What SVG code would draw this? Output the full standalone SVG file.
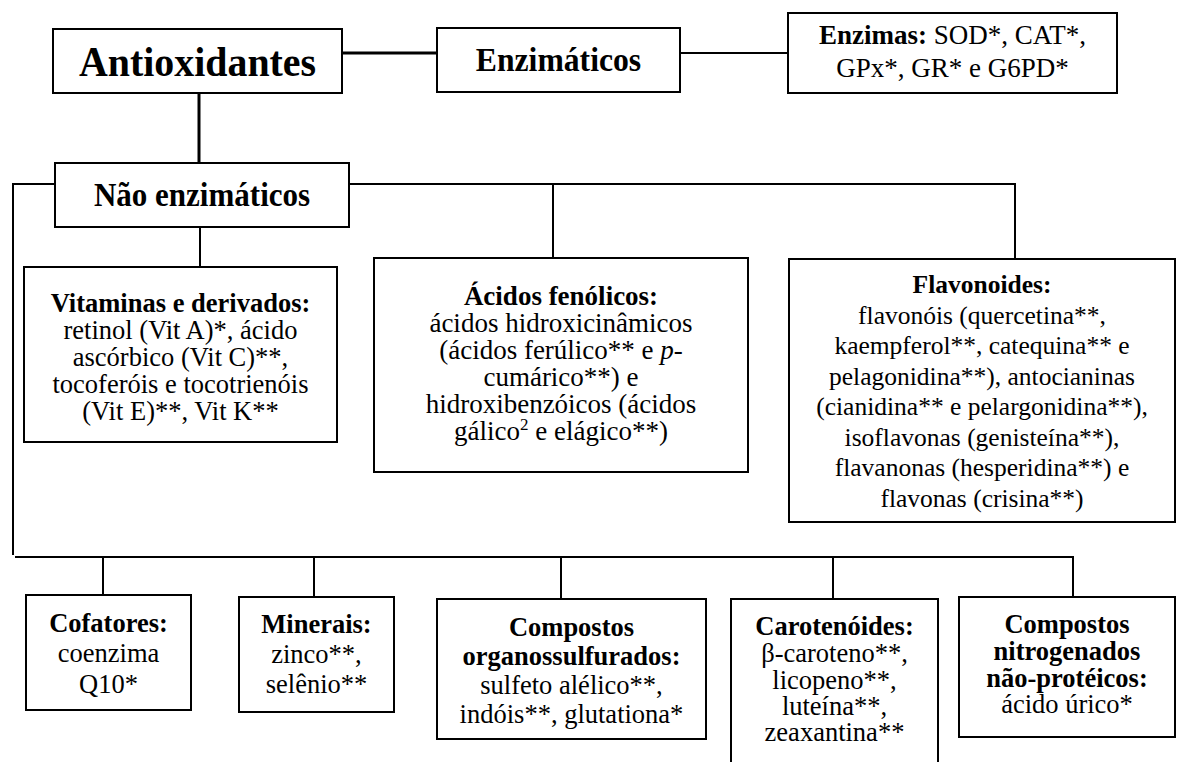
<svg xmlns="http://www.w3.org/2000/svg" width="1177" height="762" viewBox="0 0 1177 762">
<style>
.box{fill:#fff;stroke:#000;stroke-width:2}
.t{font-family:"Liberation Serif","Times New Roman",serif;font-size:26.5px;text-anchor:middle;fill:#000}
.b{font-weight:bold}
.i{font-style:italic}
.thick{stroke:#000;stroke-width:3;fill:none}
.thin{stroke:#000;stroke-width:2;fill:none}
</style>
<rect width="1177" height="762" fill="#fff"/>
<g id="connectors">
<line class="thick" x1="342" y1="53" x2="437" y2="53"/>
<line class="thin" x1="680" y1="53" x2="788" y2="53"/>
<line class="thick" x1="199" y1="93" x2="199" y2="163"/>
<polyline class="thin" points="55,184 13,184 13,555"/>
<polyline class="thin" points="349,184 1015,184 1015,259"/>
<line class="thin" x1="553" y1="184" x2="553" y2="258"/>
<line class="thin" x1="200" y1="227" x2="200" y2="267"/>
<polyline class="thin" points="15,557 1073,557 1073,597"/>
<line class="thin" x1="103" y1="557" x2="103" y2="595"/>
<line class="thin" x1="314" y1="557" x2="314" y2="597"/>
<line class="thin" x1="561" y1="557" x2="561" y2="599"/>
<line class="thin" x1="833" y1="557" x2="833" y2="599"/>
</g>
<g id="antioxidantes">
<rect class="box" x="53" y="29" width="289" height="64"/>
<text class="t b" style="font-size:42px" transform="translate(197.5 0) scale(0.95 1)"><tspan x="0" y="76">Antioxidantes</tspan></text>
</g>
<g id="enzimaticos">
<rect class="box" x="437" y="28" width="243" height="64"/>
<text class="t b" style="font-size:33px" transform="translate(558.5 0) scale(0.96 1)"><tspan x="0" y="71">Enzimáticos</tspan></text>
</g>
<g id="enzimas">
<rect class="box" x="788" y="13" width="329" height="80"/>
<text class="t" style="font-size:27px"><tspan x="952.5" y="44"><tspan class="b">Enzimas:</tspan> SOD*, CAT*,</tspan><tspan x="952.5" y="77">GPx*, GR* e G6PD*</tspan></text>
</g>
<g id="nao-enzimaticos">
<rect class="box" x="55" y="163" width="294" height="64"/>
<text class="t b" style="font-size:33px" transform="translate(202 0) scale(0.94 1)"><tspan x="0" y="206">Não enzimáticos</tspan></text>
</g>
<g id="vitaminas">
<rect class="box" x="24" y="267" width="313" height="175"/>
<text class="t"><tspan x="180.5" y="312" class="b">Vitaminas e derivados:</tspan><tspan x="180.5" y="339">retinol (Vit A)*, ácido</tspan><tspan x="180.5" y="366">ascórbico (Vit C)**,</tspan><tspan x="180.5" y="393">tocoferóis e tocotrienóis</tspan><tspan x="180.5" y="420">(Vit E)**, Vit K**</tspan></text>
</g>
<g id="acidos-fenolicos">
<rect class="box" x="374" y="258" width="374" height="214"/>
<text class="t" style="font-size:27px"><tspan x="561" y="305" class="b">Ácidos fenólicos:</tspan><tspan x="561" y="332">ácidos hidroxicinâmicos</tspan><tspan x="561" y="359">(ácidos ferúlico** e <tspan class="i">p</tspan>-</tspan><tspan x="561" y="386">cumárico**) e</tspan><tspan x="561" y="413">hidroxibenzóicos (ácidos</tspan><tspan x="561" y="440">gálico<tspan style="font-size:17px" dy="-10">2</tspan><tspan dy="10"> e elágico**)</tspan></tspan></text>
</g>
<g id="flavonoides">
<rect class="box" x="789" y="259" width="386" height="263"/>
<text class="t" style="font-size:25.5px"><tspan x="982" y="293" class="b">Flavonoides:</tspan><tspan x="982" y="324">flavonóis (quercetina**,</tspan><tspan x="982" y="354">kaempferol**, catequina** e</tspan><tspan x="982" y="385">pelagonidina**), antocianinas</tspan><tspan x="982" y="415">(cianidina** e pelargonidina**),</tspan><tspan x="982" y="446">isoflavonas (genisteína**),</tspan><tspan x="982" y="476">flavanonas (hesperidina**) e</tspan><tspan x="982" y="507">flavonas (crisina**)</tspan></text>
</g>
<g id="cofatores">
<rect class="box" x="26" y="595" width="165" height="115"/>
<text class="t"><tspan x="108.5" y="632" class="b">Cofatores:</tspan><tspan x="108.5" y="662">coenzima</tspan><tspan x="108.5" y="693">Q10*</tspan></text>
</g>
<g id="minerais">
<rect class="box" x="239" y="597" width="155" height="115"/>
<text class="t"><tspan x="316.5" y="633" class="b">Minerais:</tspan><tspan x="316.5" y="663">zinco**,</tspan><tspan x="316.5" y="693">selênio**</tspan></text>
</g>
<g id="organossulfurados">
<rect class="box" x="437" y="599" width="269" height="140"/>
<text class="t"><tspan x="571.5" y="636" class="b">Compostos</tspan><tspan x="571.5" y="665" class="b">organossulfurados:</tspan><tspan x="571.5" y="694">sulfeto alélico**,</tspan><tspan x="571.5" y="723">indóis**, glutationa*</tspan></text>
</g>
<g id="carotenoides">
<rect class="box" x="731" y="599" width="207" height="175"/>
<text class="t"><tspan x="834.5" y="635" class="b">Carotenóides:</tspan><tspan x="834.5" y="662">β-caroteno**,</tspan><tspan x="834.5" y="689">licopeno**,</tspan><tspan x="834.5" y="715">luteína**,</tspan><tspan x="834.5" y="741">zeaxantina**</tspan></text>
</g>
<g id="nitrogenados">
<rect class="box" x="959" y="597" width="216" height="140"/>
<text class="t"><tspan x="1067" y="633" class="b">Compostos</tspan><tspan x="1067" y="660" class="b">nitrogenados</tspan><tspan x="1067" y="687" class="b">não-protéicos:</tspan><tspan x="1067" y="713">ácido úrico*</tspan></text>
</g>
</svg>
